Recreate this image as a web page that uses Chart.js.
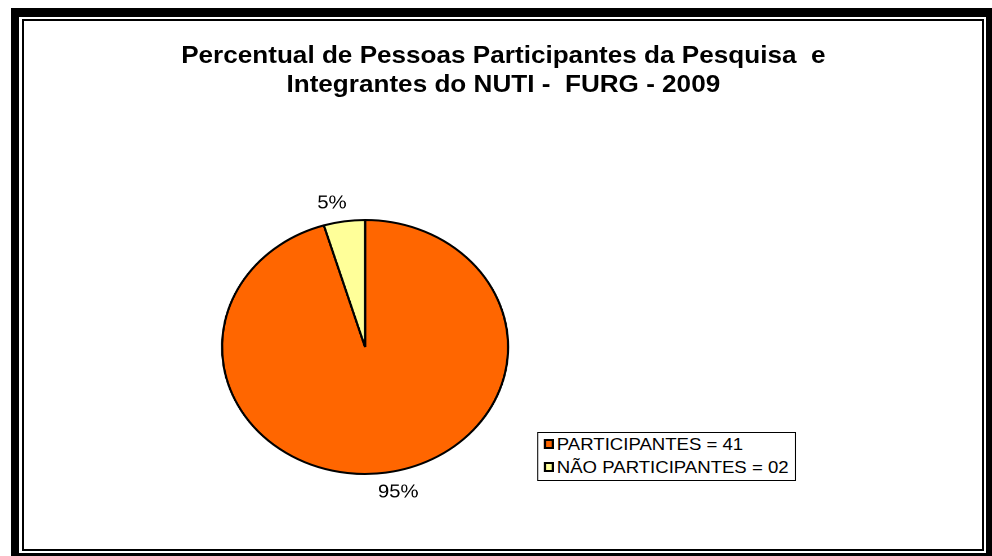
<!DOCTYPE html>
<html>
<head>
<meta charset="utf-8">
<script src="https://cdn.jsdelivr.net/npm/chart.js@4/dist/chart.umd.min.js"></script>
<style>
  html, body { margin:0; padding:0; background:#fff; }
  #page { position:relative; width:992px; height:556px; overflow:hidden; background:#fff; font-family:"Liberation Sans", Arial, sans-serif; }
  #outer { position:absolute; left:11px; top:8px; width:983px; height:554px; box-sizing:border-box; border-style:solid; border-color:#000; border-width:9px 8px 9px 8px; }
  #inner { position:absolute; left:22px; top:19px; width:962px; height:532px; box-sizing:border-box; border:2px solid #000; }
  #stage { position:absolute; left:0; top:0; width:881px; height:556px; transform:scaleX(1.126); transform-origin:0 0; }
  #title { position:absolute; left:147px; top:41.3px; width:600px; text-align:center; font-weight:bold; font-size:23.2px; line-height:29px; white-space:pre; color:#000; }
  #chart { position:absolute; left:0; top:0; }
  #legend { position:absolute; left:477px; top:432px; width:230px; height:49px; box-sizing:border-box; border:1px solid #000; background:#fff; }
  .row { position:absolute; left:0; height:22px; line-height:22px; font-size:16.5px; color:#000; white-space:pre; }
  .sw { position:absolute; left:4.5px; top:6px; width:9px; height:10px; box-sizing:border-box; border:2px solid #000; }
  .lt { position:absolute; left:16.5px; top:0; }
</style>
</head>
<body>
<div id="page">
  <div id="outer"></div>
  <div id="inner"></div>
  <div id="stage">
    <div id="title"></div>
    <canvas id="chart" width="881" height="556"></canvas>
    <div id="legend"></div>
  </div>
</div>
<script>
const titleLines = ["Percentual de Pessoas Participantes da Pesquisa  e", "Integrantes do NUTI -  FURG - 2009"];
const categories = ["PARTICIPANTES", "NÃO PARTICIPANTES"];
const counts = [41, 2];
const countLabels = ["41", "02"];
const colors = ["#FF6600", "#FFFF99"];

document.getElementById('title').textContent = titleLines.join("\n");

const legend = document.getElementById('legend');
categories.forEach((c, i) => {
  const row = document.createElement('div');
  row.className = 'row';
  row.style.top = (0 + i * 23) + 'px';
  const sw = document.createElement('div');
  sw.className = 'sw';
  sw.style.background = colors[i];
  const t = document.createElement('span');
  t.className = 'lt';
  t.textContent = c + " = " + countLabels[i];
  row.appendChild(sw); row.appendChild(t);
  legend.appendChild(row);
});

const total = counts.reduce((a, b) => a + b, 0);

const pctLabels = {
  id: 'pctLabels',
  afterDatasetsDraw(chart) {
    const ctx = chart.ctx;
    const meta = chart.getDatasetMeta(0);
    ctx.save();
    ctx.font = '18px "Liberation Sans", Arial, sans-serif';
    ctx.fillStyle = '#000';
    ctx.textAlign = 'center';
    ctx.textBaseline = 'middle';
    meta.data.forEach((arc, i) => {
      const p = arc.getProps(['x', 'y', 'startAngle', 'endAngle', 'outerRadius'], true);
      const mid = (p.startAngle + p.endAngle) / 2;
      const c = Math.cos(mid), s = Math.sin(mid);
      const px = p.x + c * p.outerRadius + c * 75;
      const py = p.y + s * p.outerRadius + s * 19;
      ctx.fillText(Math.round(counts[i] / total * 100) + '%', px, py + 1);
    });
    ctx.restore();
  }
};

new Chart(document.getElementById('chart'), {
  type: 'pie',
  data: {
    labels: categories,
    datasets: [{
      data: counts,
      backgroundColor: colors,
      borderColor: '#000',
      borderWidth: 2
    }]
  },
  options: {
    responsive: false,
    animation: false,
    devicePixelRatio: 2,
    events: [],
    radius: 127,
    layout: { padding: { left: 197.2, right: 429.8, top: 220, bottom: 82 } },
    plugins: {
      legend: { display: false },
      title: { display: false },
      tooltip: { enabled: false }
    }
  },
  plugins: [pctLabels]
});
</script>
</body>
</html>
